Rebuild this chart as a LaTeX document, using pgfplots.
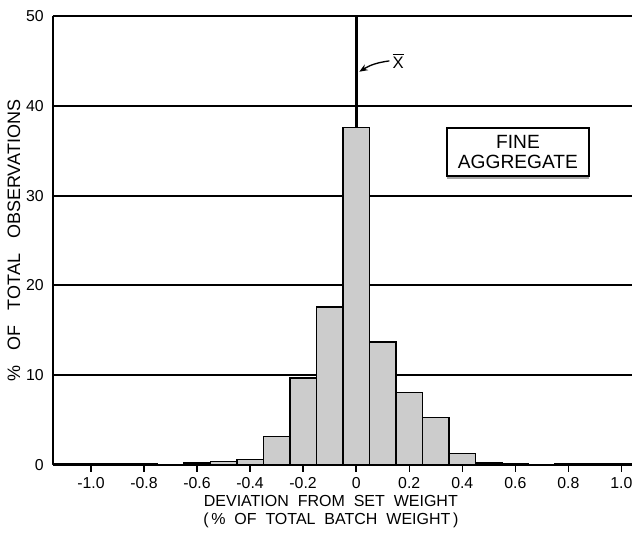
\documentclass[border=0pt]{standalone}
\usepackage{fontspec}
\setmainfont{Liberation Sans}
\usepackage{pgfplots}
\pgfplotsset{compat=1.18}
\usetikzlibrary{shadows,arrows.meta}
\begin{document}
\begin{tikzpicture}
\begin{axis}[
  name=ax,
  scale only axis,
  width=347.4pt, height=269.4pt,
  xmin=-1.143, xmax=1.04,
  ymin=0, ymax=50,
  axis x line*=box,
  axis y line*=left,
  axis line style={line width=1.1pt},
  xtick={-1,-0.8,-0.6,-0.4,-0.2,0,0.2,0.4,0.6,0.8,1.0},
  xticklabels={-1.0,-0.8,-0.6,-0.4,-0.2,0,0.2,0.4,0.6,0.8,1.0},
  ytick={0,10,20,30,40,50},
  yticklabels={0,10,20,30,40,50},
  xtick pos=bottom,
  tick align=outside,
  major tick length=4pt,
  xtick style={line width=0.8pt, black},
  ytick style={draw=none},
  yticklabel style={xshift=2pt},
  ymajorgrids,
  major grid style={line width=1.1pt, black},
  tick label style={font=\fontsize{9.5}{10}\selectfont},
  /pgf/number format/assume math mode=true,
  xlabel={DEVIATION\ \ FROM\ \ SET\ \ WEIGHT\\(\,\%\ \ OF\ \ TOTAL\ \ BATCH\ \ WEIGHT\,)},
  xlabel style={align=center, font=\fontsize{9.6}{11}\selectfont, xshift=-7pt, yshift=3pt},
  ylabel={\%\ \ \ OF\ \ \ TOTAL\ \ \ OBSERVATIONS},
  ylabel style={font=\fontsize{10.8}{12}\selectfont, yshift=-3.3pt},
  clip=true,
]
\addplot[ybar interval, fill=gray!40, draw=black, line width=0.9pt] coordinates {
(-1.15,0.1) (-1.05,0.1) (-0.95,0.1) (-0.85,0.1) (-0.75,0.05) (-0.65,0.2)
(-0.55,0.4) (-0.45,0.6) (-0.35,3.2) (-0.25,9.7) (-0.15,17.6) (-0.05,37.6)
(0.05,13.7) (0.15,8.1) (0.25,5.3) (0.35,1.3) (0.45,0.25) (0.55,0.1)
(0.65,0.05) (0.75,0.15) (0.85,0.1) (0.95,0.1) (1.05,0.1)
};
\addplot[line width=1.8pt, black] coordinates {(0,37.6) (0,50)};
\node[anchor=west, inner sep=1pt, font=\fontsize{10}{10}\selectfont] at (axis cs:0.13,45.0) {\ensuremath{\overline{\mbox{X}}}};
\draw[-{Stealth[length=5pt,width=4pt]}, line width=0.8pt] (axis cs:0.125,45.0) to[bend right=12] (axis cs:0.012,43.8);
\node[draw=black, line width=1pt, fill=white, minimum width=85pt, minimum height=29pt, align=center,
  font=\fontsize{11.5}{12.5}\selectfont, inner sep=2pt,
  drop shadow={shadow xshift=0pt, shadow yshift=-1.6pt, fill=gray!70, opacity=1}]
  at (axis cs:0.61,34.85) {FINE\\AGGREGATE};
\end{axis}
\pgfresetboundingbox
\path[use as bounding box] ([shift={(-31.8pt,-41.4pt)}]ax.south west) rectangle ([shift={(0pt,9.6pt)}]ax.north east);
\end{tikzpicture}
\end{document}
